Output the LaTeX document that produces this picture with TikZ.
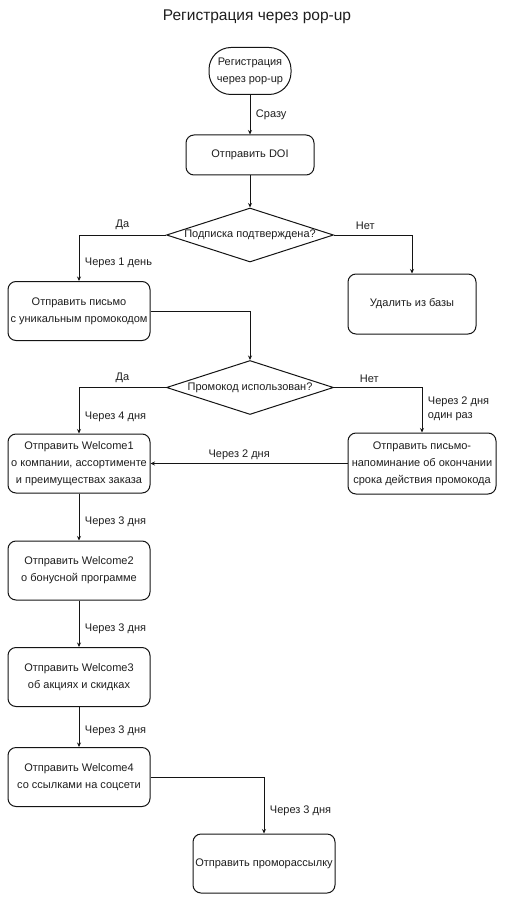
\documentclass[tikz,border=0pt]{standalone}
\usepackage{fontspec}
\setmainfont{Liberation Sans}
\usepackage{tikz}
\usetikzlibrary{arrows.meta,shapes.geometric}
\definecolor{inkgrey}{RGB}{30,30,30}
\definecolor{linegrey}{RGB}{20,20,20}
\tikzset{
  base/.style={font=\fontsize{11}{17}\selectfont, align=center, inner sep=2pt, text=inkgrey},
  box/.style={base, rectangle, rounded corners=8pt, draw=linegrey, fill=white, line width=1pt, minimum width=142pt, minimum height=59pt},
  term/.style={box, rounded corners=22pt, minimum width=82pt, minimum height=47pt},
  dec/.style={base, diamond, aspect=3.1, draw=linegrey, fill=white, line width=1pt, inner sep=0pt, minimum width=167pt, minimum height=54pt},
  arr/.style={-{Stealth[length=4.5pt,width=4pt]}, line width=0.9pt, draw=linegrey},
  lbl/.style={base, inner sep=1.5pt},
}

\begin{document}
\begin{tikzpicture}[x=1pt,y=-1pt]
  \useasboundingbox (0,0) rectangle (510,901);
  \node[base, font=\fontsize{15.5}{18}\selectfont] (title) at (257,17) {Регистрация через pop-up};

  % upper part
  \node[term] (start) at (250,71) {Регистрация\\через pop-up};
  \node[box, minimum width=128pt, minimum height=40pt] (doi) at (250,155) {Отправить DOI};
  \node[dec] (q1) at (250,235) {Подписка подтверждена?};
  \node[box] (promo1) at (79,311) {Отправить письмо\\с уникальным промокодом};
  \node[box, minimum width=128pt, minimum height=60pt] (del) at (412,304) {Удалить из базы};
  \node[dec] (q2) at (250,387.5) {Промокод использован?};
  \node[box, minimum width=148pt, minimum height=61pt] (remind) at (422,463.5) {Отправить письмо-\\напоминание об окончании\\срока действия промокода};

  % welcome chain
  \node[box] (w1) at (79,463.5) {Отправить Welcome1\\о компании, ассортименте\\и преимуществах заказа};
  \foreach \i/\y/\t in {2/570.5/{о бонусной программе},3/677/{об акциях и скидках},4/777/{со ссылками на соцсети}}{
    \node[box] (w\i) at (79,\y) {Отправить Welcome\i\\\t};
  }
  \node[box] (mass) at (264,863.5) {Отправить проморассылку};

  \draw[arr] (start) -- node[lbl, right=4pt] {Сразу} (doi);
  \draw[arr] (doi) -- (q1);
  \draw[arr] (q1.west) -| node[lbl, pos=0.25, above=3pt] {Да} node[lbl, pos=0.8, right=4pt] {Через 1 день} (promo1.north);
  \draw[arr] (q1.east) -| node[lbl, pos=0.2, above=3pt] {Нет} (del.north);
  \draw[arr] (promo1.east) -| (q2.north);
  \draw[arr] (q2.west) -| node[lbl, pos=0.25, above=3pt] {Да} node[lbl, pos=0.82, right=4pt] {Через 4 дня} (w1.north);
  \draw[arr] (q2.east) -| node[lbl, pos=0.2, above=3pt] {Нет}
    node[lbl, pos=0.74, right=4pt, align=left, font=\fontsize{11}{14}\selectfont] {Через 2 дня\\один раз} (remind.north);
  \draw[arr] (remind) -- node[lbl, pos=0.55, above=2pt] {Через 2 дня} (w1);
  \foreach \i in {1,2,3}{
    \pgfmathtruncatemacro{\j}{\i+1}
    \draw[arr] (w\i) -- node[lbl, pos=0.6, right=4pt] {Через 3 дня} (w\j);
  }
  \draw[arr] (w4.east) -| node[lbl, pos=0.8, right=4pt] {Через 3 дня} (mass.north);
\end{tikzpicture}
\end{document}
